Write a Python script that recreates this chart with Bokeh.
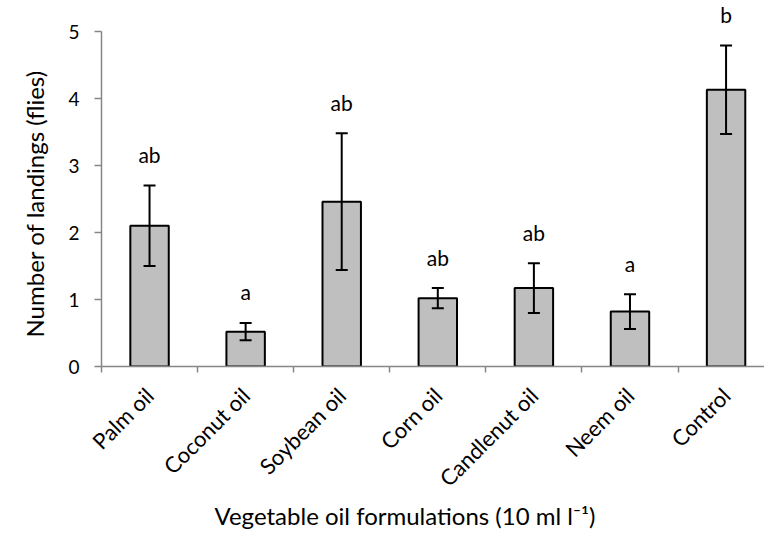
import math
from bokeh.plotting import figure
from bokeh.models import (ColumnDataSource, FixedTicker, Whisker, TeeHead,
                          LabelSet, Title, Range1d)
from bokeh.core.properties import value
from bokeh.embed import file_html
from bokeh.resources import INLINE

# ---- data ----
categories = ["Palm oil", "Coconut oil", "Soybean oil", "Corn oil",
              "Candlenut oil", "Neem oil", "Control"]
means = [2.10, 0.52, 2.46, 1.02, 1.17, 0.82, 4.13]
errors = [0.60, 0.13, 1.02, 0.15, 0.37, 0.26, 0.66]
letters = ["ab", "a", "ab", "ab", "ab", "a", "b"]
y_ticks = [0, 1, 2, 3, 4, 5]

xs = [i + 0.5 for i in range(len(categories))]
upper = [m + e for m, e in zip(means, errors)]
lower = [m - e for m, e in zip(means, errors)]

src = ColumnDataSource(dict(x=xs, top=means, upper=upper, lower=lower,
                            letter=letters, cat=categories))

FONT = "Lato"

p = figure(width=764, height=533, output_backend="svg", toolbar_location=None,
           x_range=Range1d(0, 6.9), y_range=Range1d(0, 5.463),
           min_border_left=97, min_border_right=0, min_border_top=0,
           min_border_bottom=167)
p.outline_line_color = None
p.grid.visible = False
p.background_fill_color = "white"

p.vbar(x="x", top="top", width=0.4, source=src, fill_color="#BFBFBF",
       line_color="black", line_width=2)

p.add_layout(Whisker(base="x", upper="upper", lower="lower", source=src,
                     level="overlay", line_color="black", line_width=2,
                     upper_head=TeeHead(size=12, line_color="black", line_width=2),
                     lower_head=TeeHead(size=12, line_color="black", line_width=2)))

p.add_layout(LabelSet(x="x", y="upper", text="letter", source=src,
                      y_offset=31, text_align="center", text_baseline="middle",
                      text_font=value(FONT), text_font_size=value("21px"),
                      text_color="black"))

# x axis: ticks at category boundaries, labels at centres
xa = p.xaxis[0]
xa.ticker = FixedTicker(ticks=xs, minor_ticks=list(range(len(categories) + 1)))
xa.major_label_overrides = {x: c for x, c in zip(xs, categories)}
xa.major_tick_out = 0
xa.major_tick_in = 0
xa.minor_tick_out = 6
xa.minor_tick_in = 0
xa.minor_tick_line_color = "#868686"
xa.axis_line_color = "#868686"
xa.axis_line_width = 1.5
xa.minor_tick_line_width = 1.5
xa.major_label_orientation = math.pi / 4
xa.major_label_standoff = 19
xa.major_label_text_font = FONT
xa.major_label_text_font_size = "22px"
xa.major_label_text_color = "black"

ya = p.yaxis[0]
ya.bounds = (0, 5)
ya.ticker = FixedTicker(ticks=y_ticks)
ya.minor_tick_line_color = None
ya.major_tick_out = 7
ya.major_tick_in = 0
ya.major_tick_line_color = "#868686"
ya.major_tick_line_width = 1.5
ya.axis_line_color = "#868686"
ya.axis_line_width = 1.5
ya.major_label_standoff = 15
ya.major_label_text_font = FONT
ya.major_label_text_font_size = "19px"
ya.major_label_text_color = "black"

p.add_layout(Title(text="Number of landings (flies)", align="left", offset=29,
                   vertical_align="bottom",
                   text_font=FONT, text_font_size="24px",
                   text_font_style="normal", text_color="black",
                   standoff=34), "left")

p.add_layout(Title(text="Vegetable oil formulations (10 ml l\u207b\u00b9)",
                   align="left", offset=113, text_font=FONT,
                   text_font_size="24px", text_font_style="normal",
                   text_color="black", standoff=-12), "below")

open("out.html", "w").write(file_html(p, INLINE))
